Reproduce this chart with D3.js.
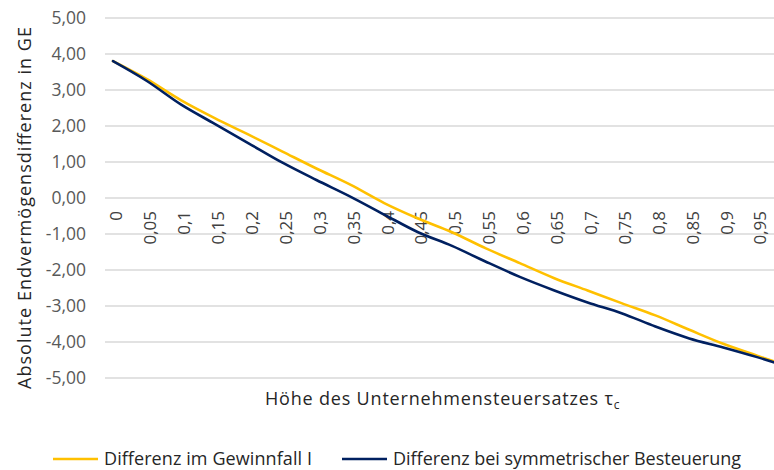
<!DOCTYPE html>
<html>
<head>
<meta charset="utf-8">
<script src="https://cdn.jsdelivr.net/npm/d3@7"></script>
<style>
  body { margin: 0; background: #fff; }
  svg { display: block; font-family: "Open Sans", Lato, sans-serif; }
</style>
</head>
<body>
<svg id="chart" width="774" height="470"></svg>
<script>
// tax rate steps (0.05) and the two difference series
const rates = [0, 0.05, 0.1, 0.15, 0.2, 0.25, 0.3, 0.35, 0.4, 0.45, 0.5,
  0.55, 0.6, 0.65, 0.7, 0.75, 0.8, 0.85, 0.9, 0.95, 1];
const gewinnfall = [3.80, 3.30, 2.72, 2.22, 1.76, 1.29, 0.82, 0.37, -0.14, -0.57, -0.95,
  -1.40, -1.81, -2.22, -2.57, -2.92, -3.26, -3.66, -4.05, -4.38, -4.70];
const symmetrisch = [3.80, 3.25, 2.60, 2.06, 1.52, 0.98, 0.50, 0.04, -0.46, -0.95, -1.33,
  -1.77, -2.19, -2.56, -2.90, -3.20, -3.57, -3.90, -4.15, -4.42, -4.72];
const xTicks = rates.slice(0, 20);
const yTicks = [5, 4, 3, 2, 1, 0, -1, -2, -3, -4, -5];

const seriesNames = ['Differenz im Gewinnfall I', 'Differenz bei symmetrischer Besteuerung'];
const seriesColors = ['#FFC000', '#002060'];

const svg = d3.select('#chart');
const fmtY = v => d3.format('.2f')(v).replace('.', ',').replace('−', '-');
const fmtX = v => String(+v.toFixed(2)).replace('.', ',');

const x = d3.scaleLinear().domain([0, 1]).range([113, 791]);
const y = d3.scaleLinear().domain([-5, 5]).range([378, 18]);

// gridlines
svg.append('g')
  .selectAll('line')
  .data(yTicks)
  .enter()
  .append('line')
  .attr('x1', 105)
  .attr('x2', 774)
  .attr('y1', d => y(d))
  .attr('y2', d => y(d))
  .attr('stroke', '#d9d9d9')
  .attr('stroke-width', 1.3);

// y labels
svg.append('g')
  .selectAll('text')
  .data(yTicks)
  .enter()
  .append('text')
  .attr('x', 86)
  .attr('y', d => y(d))
  .attr('dy', '0.36em')
  .attr('text-anchor', 'end')
  .style('font-size', '17.5px')
  .attr('fill', '#595959')
  .text(fmtY);

// x labels, rotated, sitting under the zero line
svg.append('g')
  .selectAll('text')
  .data(xTicks)
  .enter()
  .append('text')
  .attr('transform', d => 'translate(' + x(d) + ',211) rotate(-90)')
  .attr('dy', '0.55em')
  .attr('text-anchor', 'end')
  .style('font-size', '17px')
  .attr('fill', '#404040')
  .text(fmtX);

// lines
const data = [gewinnfall, symmetrisch];
const line = d3.line()
  .curve(d3.curveMonotoneX)
  .x((d, i) => x(rates[i]))
  .y(d => y(d));

svg.append('g')
  .selectAll('path')
  .data(data)
  .enter()
  .append('path')
  .attr('d', d => line(d))
  .attr('fill', 'none')
  .attr('stroke', (d, i) => seriesColors[i])
  .attr('stroke-width', 2.6)
  .attr('stroke-linejoin', 'round')
  .attr('stroke-linecap', 'round');

// axis titles
svg.append('text')
  .attr('transform', 'translate(31,208) rotate(-90)')
  .attr('text-anchor', 'middle')
  .attr('textLength', 362)
  .style('font-size', '18px')
  .attr('fill', '#262626')
  .text('Absolute Endvermögensdifferenz in GE');

const xt = svg.append('text')
  .attr('x', 265)
  .attr('y', 405)
  .style('font-size', '18px')
  .attr('fill', '#262626');
xt.append('tspan').attr('textLength', 348).text('Höhe des Unternehmensteuersatzes τ');
xt.append('tspan').attr('dy', 4).style('font-size', '12px').text('c');

// legend
const legendX = [53, 342];
const legendLen = [208, 348];
const lg = svg.append('g')
  .selectAll('g')
  .data(seriesNames)
  .enter()
  .append('g')
  .attr('transform', (d, i) => 'translate(' + legendX[i] + ',459)');
lg.append('line')
  .attr('x1', 0).attr('x2', 45)
  .attr('stroke', (d, i) => seriesColors[i])
  .attr('stroke-width', 2.6);
lg.append('text')
  .attr('x', 51)
  .attr('dy', '0.36em')
  .attr('textLength', (d, i) => legendLen[i])
  .style('font-size', '18px')
  .attr('fill', '#262626')
  .text(d => d);
</script>
</body>
</html>
